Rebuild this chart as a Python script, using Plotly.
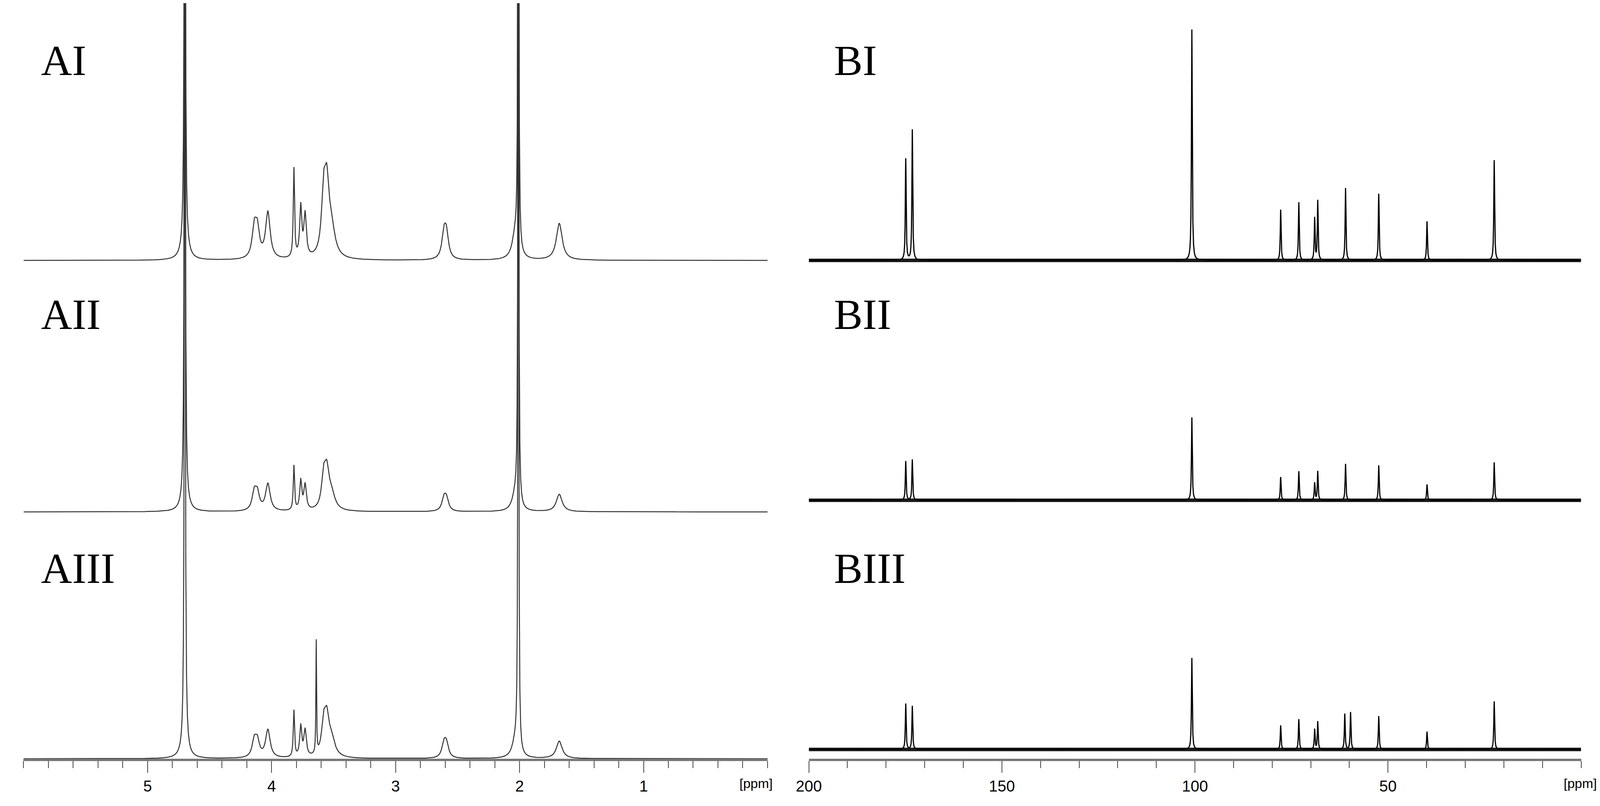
import numpy as np
import plotly.graph_objects as go

# ── Peak tables (centre ppm, height in plot units, half width ppm) ─────────
A_LABELS = ["AI", "AII", "AIII"]
A_OFFSETS = [1286, 637, 0]
A_CENTERS = [
    [4.70, 4.70, 4.14, 4.115, 4.03, 3.82, 3.765, 3.73, 3.58, 3.555, 3.52, 2.61, 2.59, 2.01, 2.035, 1.68],
    [4.70, 4.70, 4.14, 4.115, 4.03, 3.82, 3.765, 3.73, 3.58, 3.555, 3.52, 2.61, 2.59, 2.01, 2.035, 1.68],
    [4.70, 4.70, 4.14, 4.115, 4.03, 3.82, 3.765, 3.73, 3.58, 3.555, 3.52, 2.61, 2.59, 2.01, 2.035, 1.68, 3.64],
]
A_HEIGHTS = [
    [2500, 45, 75, 70, 120, 230, 130, 110, 150, 150, 80, 60, 60, 3000, 60, 95],
    [2500, 35, 45, 42, 70, 115, 75, 65, 80, 80, 45, 30, 30, 3000, 40, 45],
    [2500, 35, 42, 40, 72, 120, 78, 68, 80, 80, 48, 34, 34, 3000, 40, 45, 290],
]
A_WIDTHS = [
    [0.004, 0.03, 0.02, 0.02, 0.022, 0.006, 0.01, 0.012, 0.02, 0.02, 0.035, 0.02, 0.02, 0.003, 0.03, 0.028],
    [0.004, 0.03, 0.02, 0.02, 0.022, 0.006, 0.01, 0.012, 0.02, 0.02, 0.035, 0.02, 0.02, 0.003, 0.03, 0.028],
    [0.004, 0.03, 0.02, 0.02, 0.022, 0.006, 0.01, 0.012, 0.02, 0.02, 0.035, 0.02, 0.02, 0.003, 0.03, 0.028, 0.003],
]

B_LABELS = ["BI", "BII", "BIII"]
B_OFFSETS = [1286, 667, 24]
B_CENTERS = [
    [174.9, 173.2, 100.8, 77.8, 73.1, 69.0, 68.2, 61.0, 52.4, 39.9, 22.5],
    [174.9, 173.2, 100.8, 77.8, 73.1, 69.0, 68.2, 61.0, 52.4, 39.9, 22.5],
    [174.9, 173.2, 100.8, 77.8, 73.1, 69.0, 68.2, 61.2, 59.7, 52.4, 39.9, 22.5],
]
B_HEIGHTS = [
    [262, 337, 596, 131, 150, 109, 154, 187, 172, 101, 259],
    [101, 105, 214, 60, 75, 45, 75, 94, 90, 41, 98],
    [118, 112, 236, 62, 78, 52, 72, 92, 96, 86, 46, 124],
]
B_WIDTH = 0.12

A_TICKS = [5, 4, 3, 2, 1]
B_TICKS = [200, 150, 100, 50]


def spectrum(x, centers, heights, widths):
    y = np.zeros_like(x)
    for c, h, w in zip(centers, heights, widths):
        y += h * w**2 / ((x - c) ** 2 + w**2)
    return y


xa = np.linspace(6.0, 0.0, 12001)
xb = np.linspace(200.0, 0.0, 40001)

fig = go.Figure()
for lab, off, c, h, w in zip(A_LABELS, A_OFFSETS, A_CENTERS, A_HEIGHTS, A_WIDTHS):
    fig.add_trace(go.Scatter(x=xa, y=off + spectrum(xa, c, h, w), mode="lines",
                             line=dict(color="#333333", width=2.5), xaxis="x", yaxis="y",
                             showlegend=False))
for lab, off, c, h in zip(B_LABELS, B_OFFSETS, B_CENTERS, B_HEIGHTS):
    fig.add_trace(go.Scatter(x=[200, 0], y=[off, off], mode="lines",
                             line=dict(color="#1a1a1a", width=9), xaxis="x2", yaxis="y2",
                             showlegend=False))
    fig.add_trace(go.Scatter(x=xb, y=off + spectrum(xb, c, h, [B_WIDTH] * len(c)), mode="lines",
                             line=dict(color="#000000", width=3), xaxis="x2", yaxis="y2",
                             showlegend=False))

axis_common = dict(
    showgrid=False, zeroline=False, showline=True, linecolor="#777777", linewidth=6,
    ticks="outside", ticklen=30, tickwidth=2, tickcolor="#444444",
    tickfont=dict(family="Liberation Sans Narrow, Liberation Sans", size=40, color="#000000"),
)
# no fixed width/height: the figure fills the browser window
fig.update_layout(
    autosize=True,
    margin=dict(l=0, r=0, t=0, b=113),
    paper_bgcolor="white", plot_bgcolor="white",
    xaxis=dict(domain=[0.0048, 0.4754], range=[6.0, 0.0], tickvals=A_TICKS,
               minor=dict(dtick=0.2, ticks="outside", ticklen=18, tickcolor="#444444", tickwidth=2),
               **axis_common),
    xaxis2=dict(domain=[0.5015, 0.990], range=[200, 0], tickvals=B_TICKS,
                minor=dict(dtick=10, ticks="outside", ticklen=18, tickcolor="#444444", tickwidth=2),
                **axis_common),
    yaxis=dict(domain=[0, 1], range=[0, 1950], visible=False, fixedrange=True),
    yaxis2=dict(domain=[0, 1], range=[0, 1950], visible=False, anchor="x2"),
)

for lab, yy in zip(A_LABELS, [85, 740, 1395]):
    fig.add_annotation(text=lab, xref="paper", yref="paper", x=89 / 5852, y=1 - yy / 1950,
                       xanchor="left", yanchor="top", showarrow=False,
                       font=dict(family="Liberation Serif", size=110, color="#000000"))
for lab, yy in zip(B_LABELS, [85, 740, 1395]):
    fig.add_annotation(text=lab, xref="paper", yref="paper", x=3025 / 5852, y=1 - yy / 1950,
                       xanchor="left", yanchor="top", showarrow=False,
                       font=dict(family="Liberation Serif", size=110, color="#000000"))
for xpx in [2740, 5790]:
    fig.add_annotation(text="[ppm]", xref="paper", yref="paper", x=xpx / 5852, y=0,
                       xanchor="center", yanchor="top", yshift=-42, showarrow=False,
                       font=dict(family="Liberation Sans Narrow, Liberation Sans", size=34, color="#000000"))

fig.write_html("out.html")
